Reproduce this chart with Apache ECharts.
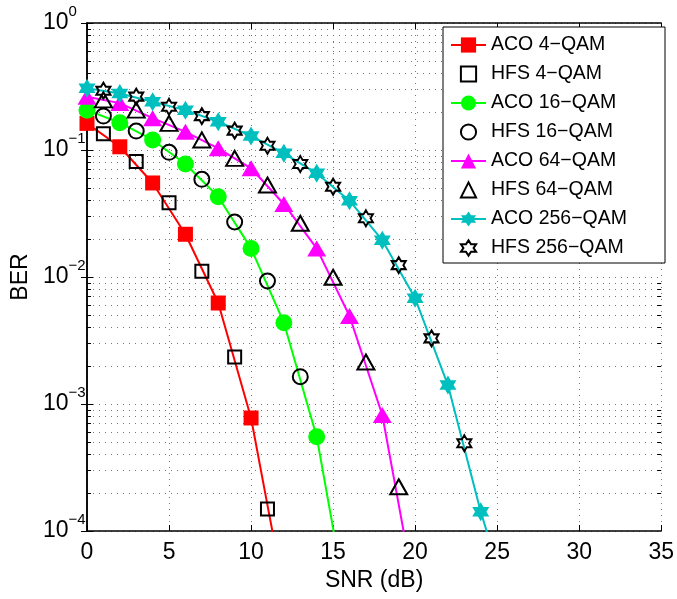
<!DOCTYPE html>
<html>
<head>
<meta charset="utf-8">
<script src="https://cdn.jsdelivr.net/npm/echarts@6/dist/echarts.min.js"></script>
<style>html,body{margin:0;padding:0;background:#fff}#c{width:677px;height:599px}</style>
</head>
<body>
<div id="c"></div>
<script>
// ---- data ----
const seriesNames = ['ACO 4\u2212QAM','HFS 4\u2212QAM','ACO 16\u2212QAM','HFS 16\u2212QAM','ACO 64\u2212QAM','HFS 64\u2212QAM','ACO 256\u2212QAM','HFS 256\u2212QAM'];
const snrEven = [0,2,4,6,8,10,12,14,16,18,20,22,24,26];
const snrOdd  = [1,3,5,7,9,11,13,15,17,19,21,23];
const aco4   = [0.162,0.106,0.055,0.0217,0.00624,0.000776,3.3e-5];
const hfs4   = [0.134,0.081,0.0385,0.0111,0.00234,0.000149];
const aco16  = [0.206,0.164,0.120,0.0776,0.0429,0.0168,0.00437,0.000553,2e-5];
const hfs16  = [0.185,0.141,0.0959,0.0588,0.0271,0.0093,0.00164];
const aco64  = [0.263,0.234,0.178,0.139,0.103,0.0718,0.0376,0.0168,0.00493,0.000819,3.2e-5];
const hfs64  = [0.248,0.206,0.162,0.120,0.0860,0.0530,0.0265,0.00995,0.00214,0.000223];
const aco256 = [0.306,0.279,0.240,0.206,0.167,0.129,0.0942,0.0655,0.0399,0.0195,0.00679,0.00141,0.000142,2e-5];
const hfs256 = [0.293,0.263,0.219,0.185,0.142,0.108,0.0776,0.0514,0.0290,0.0124,0.00329,0.000491];
const xTicks = [0,5,10,15,20,25,30,35];
const yMajor = [1e-4,1e-3,1e-2,1e-1,1];
const yMinor = [];
for (let e = -4; e < 0; e++) for (let m = 2; m <= 9; m++) yMinor.push(m * Math.pow(10, e));

// ---- styling ----
const FONT = 'Liberation Sans';
const hexagram = 'path://M0,-100 L28.87,-50 L86.6,-50 L57.7,0 L86.6,50 L28.87,50 L0,100 L-28.87,50 L-86.6,50 L-57.7,0 L-86.6,-50 L-28.87,-50 Z';
const pairs = (xs, ys) => ys.map((v, i) => [xs[i], v]);

function aco(name, data, color, symbol, size) {
  return {
    name, type: 'line', data, color,
    symbol, symbolSize: size, showAllSymbol: true,
    lineStyle: { color, width: 2 },
    itemStyle: { color, borderWidth: 0 },
    clip: true, z: 2, animation: false
  };
}
function hfs(name, data, symbol, size) {
  return {
    name, type: 'line', data, color: '#000',
    symbol, symbolSize: size, showAllSymbol: true,
    lineStyle: { opacity: 0, width: 0 },
    itemStyle: { color: 'rgba(0,0,0,0)', borderColor: '#000', borderWidth: 2 },
    clip: true, z: 3, animation: false
  };
}

const series = [
  aco(seriesNames[0], pairs(snrEven, aco4), '#ff0000', 'rect', 15),
  hfs(seriesNames[1], pairs(snrOdd, hfs4), 'rect', 13),
  aco(seriesNames[2], pairs(snrEven, aco16), '#00ff00', 'circle', 17),
  hfs(seriesNames[3], pairs(snrOdd, hfs16), 'circle', 15),
  aco(seriesNames[4], pairs(snrEven, aco64), '#ff00ff', 'triangle', [19, 16]),
  hfs(seriesNames[5], pairs(snrOdd, hfs64), 'triangle', [17, 15]),
  aco(seriesNames[6], pairs(snrEven, aco256), '#00bfbf', hexagram, [17, 19]),
  hfs(seriesNames[7], pairs(snrOdd, hfs256), hexagram, [14, 16])
];

const gridLine = { show: true, lineStyle: { color: '#777', width: 1, type: [1, 5] } };
const blackLine = { show: true, lineStyle: { color: '#000', width: 1.5 } };

function yAx(extra) {
  return Object.assign({
    type: 'log', logBase: 10, min: 1e-4, max: 1,
    axisLine: { show: false }, axisLabel: { show: false },
    splitLine: { show: false }, axisTick: { show: false }, minorTick: { show: false }
  }, extra);
}

const option = {
  animation: false,
  backgroundColor: '#fff',
  grid: { left: 87, right: 15, top: 23, bottom: 68 },
  legend: {
    orient: 'vertical', left: 443, top: 27,
    data: seriesNames,
    itemWidth: 35, itemHeight: 19, itemGap: 9,
    padding: [8, 38, 5, 7],
    backgroundColor: '#fff', borderColor: '#000', borderWidth: 1,
    textStyle: { fontFamily: FONT, fontSize: 19.5, color: '#000' },
    selectedMode: false
  },
  xAxis: [
    {
      type: 'value', min: 0, max: 35, interval: 5, position: 'bottom',
      axisLine: blackLine,
      axisTick: { show: true, inside: true, length: 6, lineStyle: { color: '#000', width: 1 } },
      axisLabel: { show: true, fontFamily: FONT, fontSize: 23, color: '#000', margin: 10,
        customValues: xTicks },
      splitLine: gridLine,
      name: 'SNR (dB)', nameLocation: 'middle', nameGap: 33,
      nameTextStyle: { fontFamily: FONT, fontSize: 23, color: '#000' }
    },
    {
      type: 'value', min: 0, max: 35, interval: 5, position: 'top',
      axisLine: blackLine,
      axisTick: { show: true, inside: true, length: 6, lineStyle: { color: '#000', width: 1 } },
      axisLabel: { show: false }, splitLine: { show: false }
    }
  ],
  yAxis: [
    yAx({
      position: 'left',
      axisLine: blackLine,
      axisTick: { show: true, inside: true, length: 6, lineStyle: { color: '#000', width: 1 } },
      axisLabel: {
        show: true, align: 'left', margin: 44,
        formatter: v => {
          const e = Math.round(Math.log10(v));
          return '{b|10}{s|' + (e < 0 ? '\u2212' + (-e) : e) + '}';
        },
        rich: {
          b: { fontFamily: FONT, fontSize: 23, lineHeight: 38, color: '#000' },
          s: { fontFamily: FONT, fontSize: 15, lineHeight: 15, color: '#000', verticalAlign: 'top' }
        }
      },
      splitLine: gridLine,
      name: 'BER', nameLocation: 'middle', nameGap: 49, nameRotate: 90,
      nameTextStyle: { fontFamily: FONT, fontSize: 23, color: '#000' }
    }),
    yAx({
      position: 'right',
      axisLine: blackLine,
      axisTick: { show: true, inside: true, length: 6, lineStyle: { color: '#000', width: 1 } }
    }),
    yAx({
      position: 'left',
      axisTick: { show: true, inside: true, length: 4, customValues: yMinor, lineStyle: { color: '#000', width: 1 } },
      splitLine: gridLine
    }),
    yAx({
      position: 'right',
      axisTick: { show: true, inside: true, length: 4, customValues: yMinor, lineStyle: { color: '#000', width: 1 } }
    })
  ],
  series
};

const chart = echarts.init(document.getElementById('c'), null, { renderer: 'canvas' });
chart.setOption(option);
</script>
</body>
</html>
